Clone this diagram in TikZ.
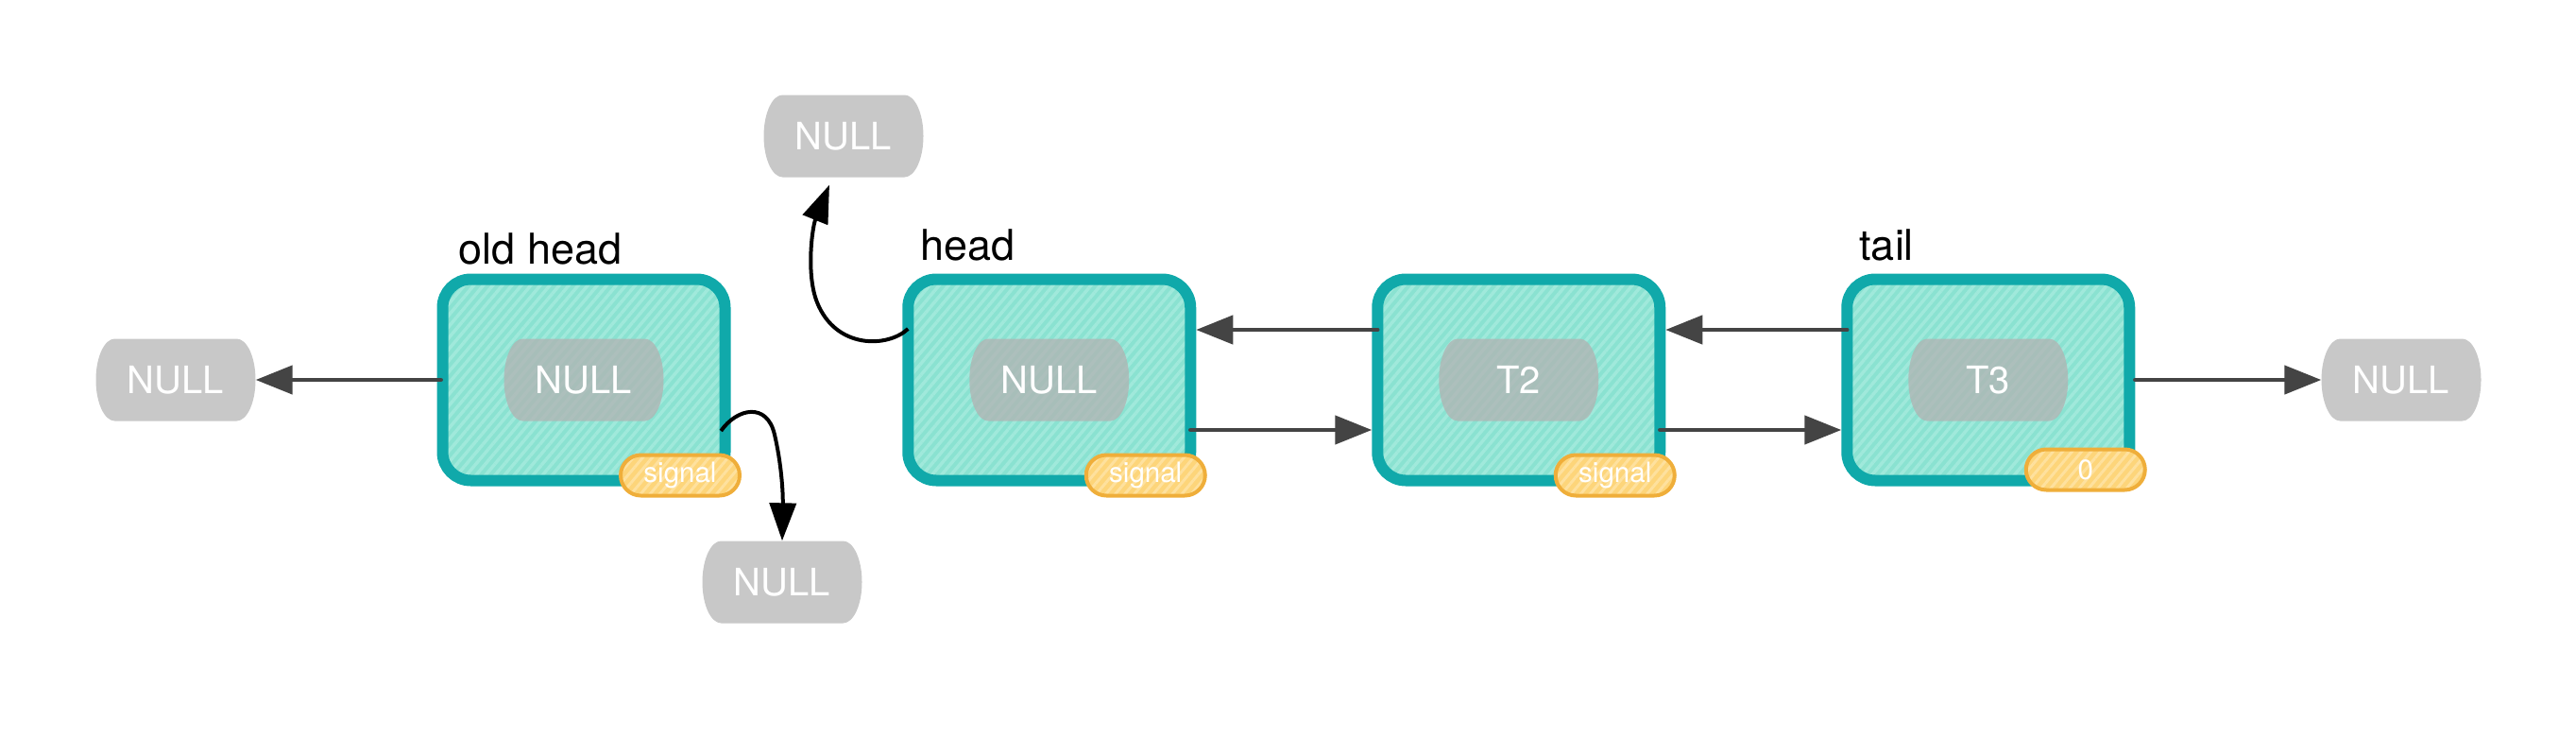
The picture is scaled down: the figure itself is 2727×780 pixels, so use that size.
\documentclass[tikz,border=0pt]{standalone}
\usepackage{fontspec}
\setmainfont{TeX Gyre Heros}
\usetikzlibrary{positioning, arrows.meta, shapes.misc, patterns.meta}
\definecolor{tealb}{HTML}{10A9AA}
\definecolor{mint}{HTML}{8AE2D1}
\definecolor{mintl}{HTML}{A0E9DB}
\definecolor{nullg}{HTML}{C8C8C8}
\definecolor{pillg}{HTML}{B2B2B2}
\definecolor{sigf}{HTML}{FDD57A}
\definecolor{sigl}{HTML}{FEE19E}
\definecolor{sigd}{HTML}{EFAE3A}
\definecolor{ptrg}{HTML}{444444}
% barrel shaped fill for the NULL / value boxes
\newcommand\barrel[2]{\fill[#1, x=1pt, y=1pt, fill opacity=#2]
  ([xshift=20pt]path picture bounding box.north west) -- ([xshift=-20pt]path picture bounding box.north east)
  arc[start angle=90, end angle=-90, x radius=20pt, y radius=43.5pt]
  -- ([xshift=20pt]path picture bounding box.south west)
  arc[start angle=270, end angle=90, x radius=20pt, y radius=43.5pt] -- cycle;}

\begin{document}
\begin{tikzpicture}[x=1pt, y=-1pt,
  cell/.style={draw=tealb, line width=12pt, rounded corners=30pt, minimum width=299pt, minimum height=213pt, preaction={fill=mint}, pattern={Lines[angle=50,distance=7.7pt,line width=3.5pt]}, pattern color=mintl},
  nul/.style={rectangle, text=white, minimum width=169pt, minimum height=87pt, inner sep=0pt, font=\fontsize{40}{48}\selectfont, path picture={\barrel{nullg}{1}}},
  val/.style={nul, path picture={\barrel{pillg}{.75}}},
  sig/.style={rounded rectangle, draw=sigd, line width=4pt, preaction={fill=sigf}, pattern={Lines[angle=50,distance=7.7pt,line width=3pt]}, pattern color=sigl, text=white, minimum width=126pt, minimum height=43pt, inner sep=0pt, font=\fontsize{29.5}{34}\selectfont},
  lbl/.style={anchor=base west, inner sep=0pt, xshift=19pt, yshift=14pt, font=\fontsize{45}{50}\selectfont},
  ptr/.style={draw=ptrg, line width=4.5pt, line cap=round, -{Triangle[length=39pt,width=30pt]}},
  curv/.style={draw=black, line width=4pt, -{Triangle[length=40pt,width=28pt]}}]
\useasboundingbox (0,0) rectangle (2727,780);
% list cells
\node[cell, label={[lbl]north west:old head}] (old) at (618,402) {};
\node[cell, right=186pt of old, label={[lbl]north west:head}] (head) {};
\node[cell, right=186pt of head] (t2) {};
\node[cell, right=186pt of t2, label={[lbl]north west:tail}] (t3) {};
\node[val] (oldv) at (old) {NULL};
\node[val] (headv) at (head) {NULL};
\node[val] (t2v) at (t2) {T2};
\node[val] (t3v) at (t3) {T3};
\node[sig] (oldsig) at ([shift={(102,101)}]old.center) {signal};
\node[sig] (headsig) at ([shift={(102,101)}]head.center) {signal};
\node[sig] (t2sig) at ([shift={(102,101)}]t2.center) {signal};
\node[sig] (t3sig) at ([shift={(103,95)}]t3.center) {0};
% null ends
\node[nul] (nl) at (186,402) {NULL};
\node[nul] (nr) at (2542,402) {NULL};
\node[nul] (nt) at (893,144) {NULL};
\node[nul] (nb) at (828,616) {NULL};
\coordinate (oldout) at ([xshift=-6pt,yshift=-54pt]old.east);
\coordinate (headout) at ([xshift=6pt,yshift=54pt]head.west);
\coordinate (ntin) at ([xshift=-15pt,yshift=-8pt]nt.south);
% pointers
\draw[ptr] (old.west) -- (nl.east);
\draw[ptr] ([xshift=6pt,yshift=53pt]t2.west) -- ([yshift=53pt]head.east);
\draw[ptr] ([xshift=-6pt,yshift=-53pt]head.east) -- ([yshift=-53pt]t2.west);
\draw[ptr] ([xshift=6pt,yshift=53pt]t3.west) -- ([yshift=53pt]t2.east);
\draw[ptr] ([xshift=-6pt,yshift=-53pt]t2.east) -- ([yshift=-53pt]t3.west);
\draw[ptr] (t3.east) -- (nr.west);
\draw[curv] (oldout) .. controls (780,432) and (812,425) .. (820,460) .. controls (827,490) and (829,520) .. (nb.north);
\draw[curv] (headout) .. controls (940,368) and (885,370) .. (865,320) .. controls (853,290) and (860,240) .. (ntin);
\end{tikzpicture}
\end{document}
